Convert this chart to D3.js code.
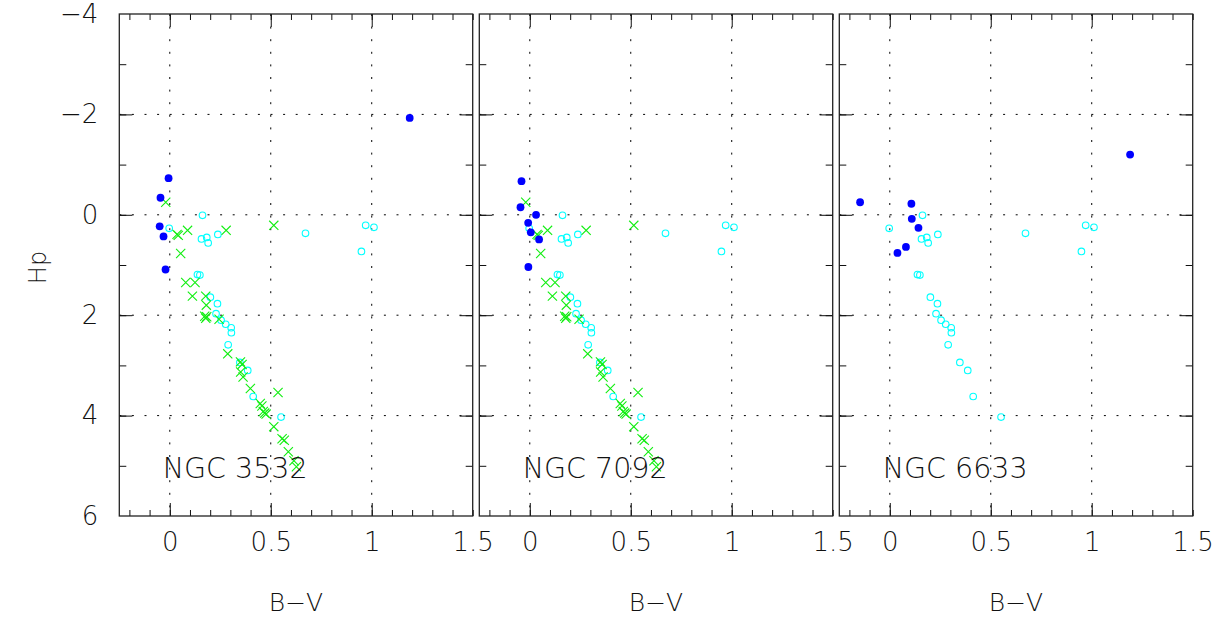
<!DOCTYPE html>
<html><head><meta charset="utf-8">
<script src="https://cdn.jsdelivr.net/npm/d3@7"></script>
<style>
body{margin:0;background:#fff;}
text{font-family:"DejaVu Sans",sans-serif;font-weight:200;fill:#111;}
</style></head>
<body><svg id="c" width="1221" height="618"></svg>
<script>
// ---- data ----
const clusters = ["NGC 3532", "NGC 7092", "NGC 6633"];
const xTicks = [0, 0.5, 1, 1.5];
const yTicks = [-4, -2, 0, 2, 4, 6];

// reference sample (open cyan circles), same in all panels
const cyanBV = [0.162, -0.003, 0.157, 0.183, 0.19, 0.238, 0.672, 0.970, 1.011, 0.949, 0.137, 0.149, 0.201, 0.236, 0.229, 0.254, 0.277, 0.304, 0.305, 0.289, 0.347, 0.386, 0.413, 0.551];
const cyanHp = [0.01, 0.27, 0.48, 0.45, 0.56, 0.39, 0.37, 0.21, 0.25, 0.73, 1.19, 1.20, 1.64, 1.77, 1.97, 2.10, 2.18, 2.25, 2.35, 2.59, 2.94, 3.10, 3.62, 4.03];

// green crosses, shown in the first two panels
const greenBV = [-0.02, 0.036, 0.042, 0.088, 0.279, 0.515, 0.054, 0.079, 0.125, 0.112, 0.178, 0.181, 0.173, 0.178, 0.183, 0.244, 0.287, 0.350, 0.358, 0.351, 0.363, 0.399, 0.448, 0.456, 0.463, 0.470, 0.477, 0.536, 0.515, 0.556, 0.567, 0.587, 0.615, 0.627];
const greenHp = [-0.25, 0.39, 0.41, 0.31, 0.31, 0.21, 0.77, 1.35, 1.35, 1.62, 1.62, 1.80, 2.02, 2.06, 2.03, 2.08, 2.77, 2.93, 2.98, 3.13, 3.23, 3.46, 3.76, 3.81, 3.92, 3.95, 3.97, 3.54, 4.22, 4.46, 4.49, 4.72, 4.90, 5.02];
const showGreen = [true, true, false];

// cluster members (filled blue dots)
const blue3532BV = [-0.006, -0.046, -0.05, -0.031, -0.021, 1.188];
const blue3532Hp = [-0.73, -0.34, 0.23, 0.43, 1.09, -1.93];
const blue7092BV = [-0.041, -0.046, 0.031, -0.008, 0.005, 0.046, -0.007];
const blue7092Hp = [-0.67, -0.15, 0.0, 0.16, 0.35, 0.49, 1.04];
const blue6633BV = [-0.147, 0.107, 0.109, 0.142, 0.080, 0.038, 1.190];
const blue6633Hp = [-0.25, -0.22, 0.08, 0.26, 0.64, 0.76, -1.20];
const blueBV = [blue3532BV, blue7092BV, blue6633BV];
const blueHp = [blue3532Hp, blue7092Hp, blue6633Hp];

// ---- layout ----
const svg = d3.select("#c");
const lefts = [119.3, 479.3, 839.3];
const pw = 353.4, yTop = 14, yBot = 516;
const y = d3.scaleLinear().domain([-4, 6]).range([yTop, yBot]);

clusters.forEach((name, i) => {
  const L = lefts[i];
  const x = d3.scaleLinear().domain([-0.25, 1.5]).range([L, L + pw]);
  const g = svg.append("g");

  // dotted grid
  const dash = "2,10.6";
  g.selectAll(".gx").data([0, 0.5, 1]).join("line")
    .attr("x1", d => x(d)).attr("x2", d => x(d)).attr("y1", yTop).attr("y2", yBot)
    .attr("stroke", "#000").attr("stroke-width", 1).attr("stroke-dasharray", dash);
  g.selectAll(".gy").data([-2, 0, 2, 4]).join("line")
    .attr("x1", L).attr("x2", L + pw).attr("y1", d => y(d)).attr("y2", d => y(d))
    .attr("stroke", "#000").attr("stroke-width", 1).attr("stroke-dasharray", dash);

  // inward ticks on all four sides
  const minorX = d3.range(-0.2, 1.5001, 0.1).map(v => +v.toFixed(2));
  const majorX = [0, 0.5, 1];
  const minorY = d3.range(-3, 6, 1);
  const majorY = [-2, 0, 2, 4];
  const tickAxes = [
    [d3.axisBottom(x).tickValues(minorX).tickSize(-6), `translate(0,${yBot})`],
    [d3.axisBottom(x).tickValues(majorX).tickSize(-13), `translate(0,${yBot})`],
    [d3.axisTop(x).tickValues(minorX).tickSize(-6), `translate(0,${yTop})`],
    [d3.axisTop(x).tickValues(majorX).tickSize(-13), `translate(0,${yTop})`],
    [d3.axisLeft(y).tickValues(minorY).tickSize(-7), `translate(${L},0)`],
    [d3.axisLeft(y).tickValues(majorY).tickSize(-13), `translate(${L},0)`],
    [d3.axisRight(y).tickValues(minorY).tickSize(-7), `translate(${L + pw},0)`],
    [d3.axisRight(y).tickValues(majorY).tickSize(-13), `translate(${L + pw},0)`]
  ];
  tickAxes.forEach(([ax, tr]) => {
    const a = g.append("g").attr("transform", tr).call(ax.tickFormat(""));
    a.select(".domain").remove();
    a.selectAll("line").attr("stroke", "#111");
  });

  // frame
  g.append("rect").attr("x", L).attr("y", yTop).attr("width", pw).attr("height", yBot - yTop)
    .attr("fill", "none").attr("stroke", "#222").attr("stroke-width", 1.3);

  // x tick labels
  const xl = g.append("g").attr("transform", `translate(0,${yBot})`)
    .call(d3.axisBottom(x).tickValues(xTicks).tickSize(0).tickPadding(17).tickFormat(d3.format("")));
  xl.select(".domain").remove();
  xl.selectAll("text").attr("font-size", 26).style("font-family", "DejaVu Sans").attr("fill", "#111");

  // x title
  g.append("text").attr("x", L + pw / 2).attr("y", 611).attr("text-anchor", "middle")
    .attr("font-size", 25).text("B\u2212V");

  // y tick labels on first panel
  if (i === 0) {
    const yl = g.append("g").attr("transform", `translate(${L},0)`)
      .call(d3.axisLeft(y).tickValues(yTicks).tickSize(0).tickPadding(21));
    yl.select(".domain").remove();
    yl.selectAll("text").attr("font-size", 26).style("font-family", "DejaVu Sans").attr("fill", "#111");
    g.append("text").attr("transform", `translate(46,${y(1.05)}) rotate(-90)`)
      .attr("text-anchor", "middle").attr("font-size", 24).text("Hp");
  }

  // points
  const cyan = cyanBV.map((v, k) => [v, cyanHp[k]]);
  g.selectAll(".cy").data(cyan).join("circle")
    .attr("cx", d => x(d[0])).attr("cy", d => y(d[1])).attr("r", 3.3)
    .attr("fill", "none").attr("stroke", "#00ffff").attr("stroke-width", 1.1);

  if (showGreen[i]) {
    const green = greenBV.map((v, k) => [v, greenHp[k]]);
    const s = 4.6;
    g.selectAll(".gr").data(green).join("path")
      .attr("d", d => {
        const cx = x(d[0]), cy = y(d[1]);
        return `M${cx - s},${cy - s}L${cx + s},${cy + s}M${cx - s},${cy + s}L${cx + s},${cy - s}`;
      })
      .attr("stroke", "#11ee11").attr("stroke-width", 1.1).attr("fill", "none");
  }

  const blue = blueBV[i].map((v, k) => [v, blueHp[i][k]]);
  g.selectAll(".bl").data(blue).join("circle")
    .attr("cx", d => x(d[0])).attr("cy", d => y(d[1])).attr("r", 3.9)
    .attr("fill", "#0000ff");

  // cluster name
  g.append("text").attr("x", x(-0.035)).attr("y", 478).attr("font-size", 28.5).text(name);
});
</script></body></html>
